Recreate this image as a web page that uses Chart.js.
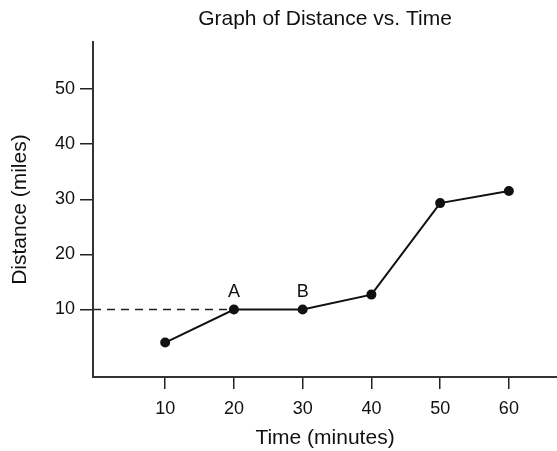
<!DOCTYPE html>
<html>
<head>
<meta charset="utf-8">
<script src="https://cdn.jsdelivr.net/npm/chart.js@4"></script>
<style>
    html, body { margin: 0; padding: 0; background: #fff; }
    canvas { display: block; }
</style>
</head>
<body>
<canvas id="distanceChart" width="557" height="451"></canvas>
<script>
const times = [10, 20, 30, 40, 50, 60]
const distances = [4, 10, 10, 12.7, 29.3, 31.5]
const pointLabels = ["", "A", "B", "", "", ""]
const xTicks = [10, 20, 30, 40, 50, 60]
const yTicks = [10, 20, 30, 40, 50]
const refLevel = 10
const refEndTime = 20

const xMin = -0.5
const xMax = 67
const yMin = -2.25
const yMax = 58.5

const font = "'Liberation Sans', Arial, Helvetica, sans-serif"
const ink = "#111"

// writes A / B above the points they belong to
const pointLabelPlugin = {
    id: "pointLabels",
    afterDatasetsDraw(chart) {
        const meta = chart.getDatasetMeta(0)
        const ctx = chart.ctx
        ctx.save()
        ctx.fillStyle = ink
        ctx.font = "18px " + font
        ctx.textAlign = "center"
        ctx.textBaseline = "alphabetic"
        pointLabels.forEach((label, i) => {
            if (!label) return
            const pt = meta.data[i]
            ctx.fillText(label, pt.x, pt.y - 12)
        })
        ctx.restore()
    }
}

function pinTicks(list) {
    return (scale) => {
        scale.ticks = list.map(v => ({ value: v }))
    }
}

const ctx = document.getElementById("distanceChart")

new Chart(ctx, {
    type: "scatter",
    data: {
        datasets: [
            {
                data: times.map((t, i) => ({ x: t, y: distances[i] })),
                showLine: true,
                borderColor: ink,
                backgroundColor: ink,
                borderWidth: 2,
                pointRadius: 4,
                pointHoverRadius: 4
            },
            {
                data: [{ x: xMin, y: refLevel }, { x: refEndTime, y: refLevel }],
                showLine: true,
                borderColor: "#222",
                borderWidth: 1.3,
                borderDash: [8, 6],
                pointRadius: 0
            }
        ]
    },
    options: {
        responsive: false,
        animation: false,
        layout: { padding: 0, autoPadding: false },
        plugins: {
            legend: { display: false },
            tooltip: { enabled: false },
            title: {
                display: true,
                fullSize: false,
                text: "Graph of Distance vs. Time",
                color: ink,
                font: { family: font, size: 21, weight: "normal" },
                padding: { top: 7, bottom: 10 }
            }
        },
        scales: {
            x: {
                type: "linear",
                min: xMin,
                max: xMax,
                afterBuildTicks: pinTicks(xTicks),
                afterFit: (scale) => {
                    scale.height = 74
                    scale.paddingLeft = 0
                    scale.paddingRight = 0
                },
                ticks: {
                    color: ink,
                    font: { family: font, size: 18 },
                    padding: 9,
                    maxRotation: 0
                },
                grid: {
                    drawOnChartArea: false,
                    tickLength: 12,
                    color: "#222",
                    lineWidth: 1.5
                },
                border: { color: "#333", width: 2 },
                title: {
                    display: true,
                    text: "Time (minutes)",
                    color: ink,
                    font: { family: font, size: 21 },
                    padding: { top: 0, bottom: 0 }
                }
            },
            y: {
                min: yMin,
                max: yMax,
                afterBuildTicks: pinTicks(yTicks),
                afterFit: (scale) => {
                    scale.width = 93
                    scale.paddingTop = 0
                    scale.paddingBottom = 0
                },
                ticks: {
                    color: ink,
                    font: { family: font, size: 18 },
                    padding: 5
                },
                grid: {
                    drawOnChartArea: false,
                    tickLength: 13,
                    color: "#222",
                    lineWidth: 1.5
                },
                border: { color: "#333", width: 2 },
                title: {
                    display: true,
                    text: "Distance (miles)",
                    color: ink,
                    font: { family: font, size: 21 },
                    padding: { top: 8, bottom: 0 }
                }
            }
        }
    },
    plugins: [pointLabelPlugin]
})
</script>
</body>
</html>
